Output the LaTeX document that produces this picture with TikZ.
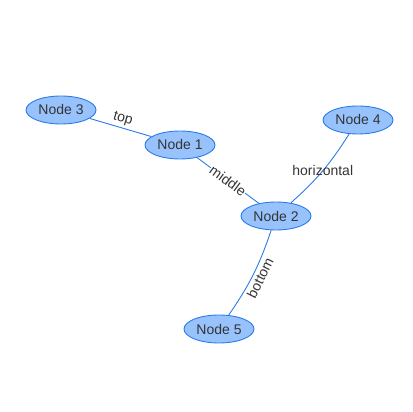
\documentclass[tikz,border=0pt]{standalone}
\usepackage{fontspec}
\setmainfont{Liberation Sans}
\usetikzlibrary{shapes.geometric,backgrounds}
\definecolor{nodefill}{HTML}{97C2FC}
\definecolor{nodeline}{HTML}{2B7CE9}
\definecolor{labeltext}{HTML}{343434}
\begin{document}
\begin{tikzpicture}[x=1pt,y=1pt,
  netnode/.style={ellipse, draw=nodeline, fill=nodefill, line width=0.9pt,
    minimum width=70pt, minimum height=28pt, inner sep=0pt,
    text=labeltext, font=\fontsize{14}{14}\selectfont},
  link/.style={draw=nodeline, line width=0.9pt},
  edgelabel/.style={text=labeltext, font=\fontsize{14}{14}\selectfont, inner sep=1pt}]
  \useasboundingbox (0,0) rectangle (412,412);

  % nodes
  \node[netnode] (n3) at (61,302) {Node 3};
  \node[netnode] (n1) at (180,267) {Node 1};
  \node[netnode] (n4) at (358,292) {Node 4};
  \node[netnode] (n2) at (276,196) {Node 2};
  \node[netnode] (n5) at (219,83) {Node 5};

  % connectors with their labels, kept behind the nodes
  \begin{pgfonlayer}{background}
    \path[link] (n3) -- node[edgelabel, sloped, above=1pt] {top} (n1);
    \path[link] (n1) -- node[edgelabel, sloped, fill=white, inner sep=0.5pt] {middle} (n2);
    \path[link] (n4) to[bend left=8] node[edgelabel, pos=0.5] {horizontal} (n2);
    \path[link] (n2) to[bend left=8] node[edgelabel, sloped, below=1pt] {bottom} (n5);
  \end{pgfonlayer}
\end{tikzpicture}
\end{document}
